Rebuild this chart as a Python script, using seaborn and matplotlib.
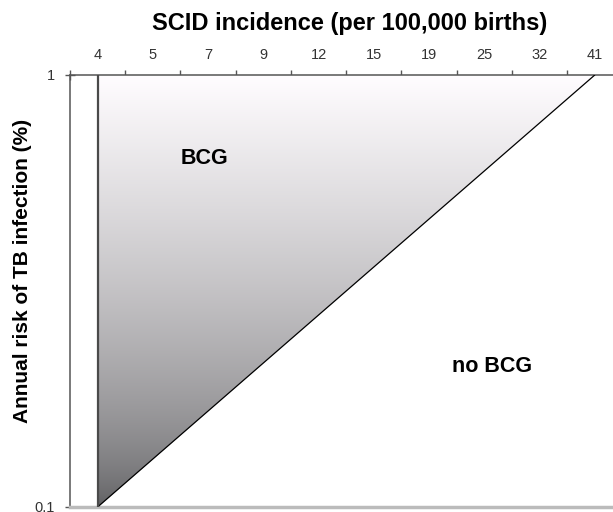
import numpy as np
import matplotlib
matplotlib.use("Agg")
import matplotlib.pyplot as plt
import seaborn as sns
from matplotlib.patches import Polygon
from matplotlib.ticker import NullLocator, FixedLocator, NullFormatter

# ---- data ----
scid_labels = ["4", "5", "7", "9", "12", "15", "19", "25", "32", "41"]
risk_ticks = [0.1, 1]
risk_tick_labels = ["0.1", "1"]
# threshold line separating the BCG / no-BCG regions
threshold_scid = ["4", "41"]
threshold_risk = [0.1, 1.0]
region_labels = ["BCG", "no BCG"]

sns.set_style("white")
plt.rcParams["font.family"] = ["Liberation Sans", "DejaVu Sans"]

W, H = 613, 512
fig = plt.figure(figsize=(W / 100, H / 100), dpi=100)
ax_left, ax_top, ax_bottom = 70, 75, 507
ax = fig.add_axes([ax_left / W, (H - ax_bottom) / H, (W - ax_left) / W, (ax_bottom - ax_top) / H])

unit = 55.24  # px per category
ax.set_yscale("log")

xi = [scid_labels.index(s) for s in threshold_scid]

# gradient-filled BCG triangle
poly = Polygon([(xi[0], threshold_risk[0]), (xi[0], threshold_risk[1]), (xi[1], threshold_risk[1])],
               closed=True, facecolor="none", edgecolor="none", transform=ax.transData)
ax.add_patch(poly)
n = 256
t = np.linspace(0, 1, n)[:, None] ** 0.65  # 0 bottom -> 1 top
top_c = np.array([1.0, 0.99, 1.0])
bot_c = np.array([0.36, 0.36, 0.37])
grad = (bot_c + (top_c - bot_c) * t)[:, None, :]
im = ax.imshow(np.clip(grad, 0, 1), extent=[0, 1, 0, 1], transform=ax.transAxes, origin="lower",
               aspect="auto", interpolation="bilinear", zorder=1)
im.set_clip_path(poly)

# threshold line
sns.lineplot(x=xi, y=threshold_risk, ax=ax, color="black", linewidth=0.9, zorder=3)
# left edge of the region
ax.plot([xi[0], xi[0]], threshold_risk, color="#4a4a4a", linewidth=1.6, zorder=3)

ax.set_xlim(-0.5, -0.5 + (W - ax_left) / unit)
ax.set_ylim(risk_ticks[0], risk_ticks[-1])

# x axis on top: ticks at category boundaries, labels at centers
nc = len(scid_labels)
ax.xaxis.set_major_locator(FixedLocator(np.arange(nc + 1) - 0.5))
ax.xaxis.set_major_formatter(NullFormatter())
ax.set_xticks(np.arange(nc), minor=True)
ax.set_xticklabels(scid_labels, minor=True)
ax.xaxis.tick_top()
ax.tick_params(axis="x", which="major", direction="inout", length=6.5, width=1,
               color="#555555", top=True, bottom=False)
ax.tick_params(axis="x", which="minor", length=0, top=True, bottom=False,
               labeltop=True, labelbottom=False, labelsize=10.5, labelcolor="#333333", pad=9.3)

ax.yaxis.set_minor_locator(NullLocator())
ax.set_yticks(risk_ticks)
ax.set_yticklabels(risk_tick_labels)
ax.tick_params(axis="y", which="major", direction="inout", length=6.5, width=1,
               color="#555555", left=True, labelsize=10.5, labelcolor="#333333", pad=7.6)

ax.spines["right"].set_visible(False)
ax.spines["top"].set_color("#555555")
ax.spines["top"].set_linewidth(1.1)
ax.spines["left"].set_color("#555555")
ax.spines["left"].set_linewidth(1.1)
ax.spines["bottom"].set_color("#bbbbbb")
ax.spines["bottom"].set_linewidth(2.5)

# region labels
ax.text((204 - ax_left) / (W - ax_left), 1 - (163.5 - ax_top) / (ax_bottom - ax_top), region_labels[0],
        transform=ax.transAxes, ha="center", va="baseline", fontsize=15.5, fontweight="bold",
        color="black", zorder=4)
ax.text((492 - ax_left) / (W - ax_left), 1 - (371.5 - ax_top) / (ax_bottom - ax_top), region_labels[1],
        transform=ax.transAxes, ha="center", va="baseline", fontsize=15.5, fontweight="bold",
        color="black", zorder=4)

fig.text(350 / W, 1 - 30 / H, "SCID incidence (per 100,000 births)", ha="center", va="baseline",
         fontsize=17, fontweight="bold", color="black")
fig.text(23 / W, 1 - 271 / H, "Annual risk of TB infection (%)", ha="center", va="center",
         rotation=90, fontsize=15, fontweight="bold", color="black")

fig.savefig("out.png", dpi=100)
